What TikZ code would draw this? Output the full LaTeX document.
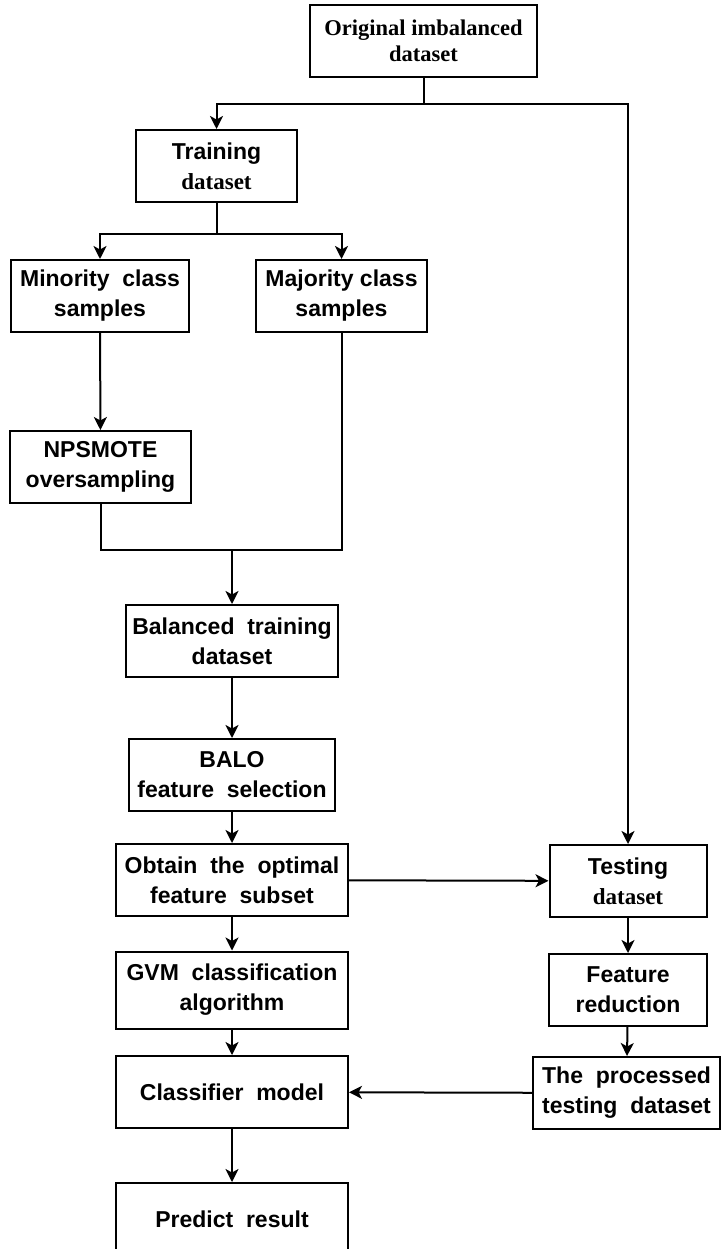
\documentclass[tikz,border=0pt]{standalone}
\usepackage{fontspec}
\setmainfont{Liberation Serif}
\setsansfont{Liberation Sans}
\usepackage{tikz}
\usetikzlibrary{arrows.meta,calc}

\tikzset{
    box/.style={draw, line width=2pt, minimum height=72pt, align=center, inner sep=0pt,
        font=\sffamily\bfseries\fontsize{23}{30}\selectfont},
    arr/.style={-{Stealth[length=13pt,width=13pt,inset=3.5pt]}},
    wire/.style={line width=2pt}
}

\begin{document}
\begin{tikzpicture}[x=1pt,y=-1pt,wire]
    \useasboundingbox (0,0) rectangle (720,1249);

    % Training branch
    \node[box, minimum width=227pt, font=\rmfamily\bfseries\fontsize{22.5}{26}\selectfont] (orig) at (423.5,41) {Original imbalanced\\dataset};
    \node[box, minimum width=161pt] (train) at (216.5,166) {Training\\{\rmfamily dataset}};
    \node[box, minimum width=178pt] (minor) at (100,296) {Minority\ \ class\\samples};
    \node[box, minimum width=171pt] (major) at (341.5,296) {Majority class\\samples};
    \node[box, minimum width=181pt] (npsmote) at (100.5,467) {NPSMOTE\\oversampling};
    \node[box, minimum width=212pt] (balanced) at (232,641) {Balanced\ \ training\\dataset};
    \node[box, minimum width=206pt] (balo) at (232,775) {BALO\\feature\ \ selection};
    \node[box, minimum width=232pt] (obtain) at (232,880) {Obtain\ \ the\ \ optimal\\feature\ \ subset};
    \node[box, minimum width=232pt, minimum height=77pt] (gvm) at (232,990) {GVM\ \ classification\\algorithm};
    \node[box, minimum width=232pt] (clf) at (232,1092) {Classifier\ \ model};
    \node[box, minimum width=232pt] (predict) at (232,1219) {Predict\ \ result};

    % Testing branch
    \node[box, minimum width=157pt] (testing) at (628,881) {Testing\\{\rmfamily dataset}};
    \node[box, minimum width=158pt] (featred) at (628,990) {Feature\\reduction};
    \node[box, minimum width=187pt] (processed) at (626.5,1093) {The\ \ processed\\testing\ \ dataset};

    % Split of the original data
    \draw (orig.south) -- ++(0,26) coordinate (split);
    \draw[arr] (split) -| (train.north);
    \draw[arr] (split) -| (testing.north);

    % Minority / majority
    \draw (train.south) -- ++(0,31) coordinate (classsplit);
    \draw[arr] (classsplit) -| (minor.north);
    \draw[arr] (classsplit) -| (major.north);
    \draw[arr] (minor) -- (npsmote);

    % Merge
    \coordinate (merge) at (232,550);
    \draw (npsmote.south) |- (merge) -| (major.south);
    \draw[arr] (merge) -- (balanced.north);

    \draw[arr] (balanced) -- (balo);
    \draw[arr] (balo) -- (obtain);
    \draw[arr] (obtain) -- (gvm);
    \draw[arr] (gvm) -- (clf);
    \draw[arr] (clf) -- (predict);
    \draw[arr] (obtain) -- (testing);
    \draw[arr] (testing) -- (featred);
    \draw[arr] (featred) -- (processed);
    \draw[arr] (processed) -- (clf);
\end{tikzpicture}
\end{document}
